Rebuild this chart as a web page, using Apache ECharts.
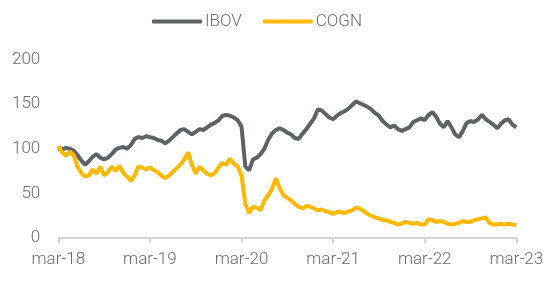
<!DOCTYPE html>
<html><head><meta charset="utf-8">
<script src="https://cdn.jsdelivr.net/npm/echarts@6/dist/echarts.min.js"></script>
<style>html,body{margin:0;padding:0;background:#fff}#c{width:557px;height:285px}</style>
</head><body><div id="c"></div>
<script>
// month offsets from mar-18, in half-month steps
const stepMonths = 0.5;
const tickLabels = ['mar-18','mar-19','mar-20','mar-21','mar-22','mar-23'];
const seriesNames = ['IBOV','COGN'];
const ibov = [100,99,101,100,98,93,87,82,86,91,94,90,88,90,94,99,101,102,100,104,111,113,112,114,113,112,110,109,106,109,113,117,121,122,119,116,119,122,121,124,127,129,132,137,138,137,135,132,125,80,76,88,90,94,100,110,117,121,123,121,118,116,112,111,117,122,128,134,144,143,139,135,133,137,140,142,145,149,153,151,149,147,144,140,137,131,127,124,126,122,120,122,124,130,132,134,132,138,141,136,128,124,131,124,116,113,120,129,131,130,133,138,133,130,127,123,128,132,133,127,124];
const cogn = [103,96,92,97,93,80,73,69,70,77,72,80,70,74,80,75,81,73,69,64,70,80,79,77,79,76,74,70,67,70,74,78,82,88,96,82,72,80,76,72,70,73,79,84,82,89,83,80,70,38,28,35,34,31,42,48,55,67,56,48,45,42,38,35,33,36,35,33,31,32,30,29,27,29,29,28,30,31,34,33,30,27,25,23,22,20,20,18,17,15,16,18,17,16,17,15,15,21,20,18,19,18,16,15,16,17,19,18,18,20,21,22,23,17,15,15,16,15,16,15,14.5];

const toPairs = arr => arr.map((v,i)=>[i*stepMonths, v]);
const font = 'Roboto, "DejaVu Sans", sans-serif';
const chart = echarts.init(document.getElementById('c'), null, {renderer:'canvas'});
chart.setOption({
  animation:false,
  color:['#5d6264','#ffb800'],
  legend:{
    top:8, left:147,
    itemWidth:50, itemHeight:4, itemGap:21,
    icon:'roundRect',
    textStyle:{color:'#6b6b6b', fontSize:17, fontFamily:font, fontWeight:300, padding:[0,0,0,-2]},
    data:seriesNames
  },
  grid:{left:58.3, right:40.7, top:59.5, bottom:47, containLabel:false},
  xAxis:{
    type:'value', min:0, max:60, interval:12,
    axisLine:{show:true, lineStyle:{color:'#d4d4d4', width:2}},
    axisTick:{show:true, length:5, lineStyle:{color:'#d4d4d4', width:2}},
    splitLine:{show:false},
    axisLabel:{color:'#6b6b6b', fontSize:17, fontFamily:font, fontWeight:300, margin:13,
      formatter:v=>tickLabels[Math.round(v/12)] || ''}
  },
  yAxis:{
    type:'value', min:0, max:200, interval:50,
    axisLine:{show:false}, axisTick:{show:false}, splitLine:{show:false},
    axisLabel:{color:'#6b6b6b', fontSize:17, fontFamily:font, fontWeight:300, margin:18}
  },
  series:[
    {name:seriesNames[0], type:'line', data:toPairs(ibov), showSymbol:false, symbol:'none',
     lineStyle:{width:4, color:'#5d6264'}},
    {name:seriesNames[1], type:'line', data:toPairs(cogn), showSymbol:false, symbol:'none',
     lineStyle:{width:4, color:'#ffb800'}}
  ]
});
</script></body></html>
